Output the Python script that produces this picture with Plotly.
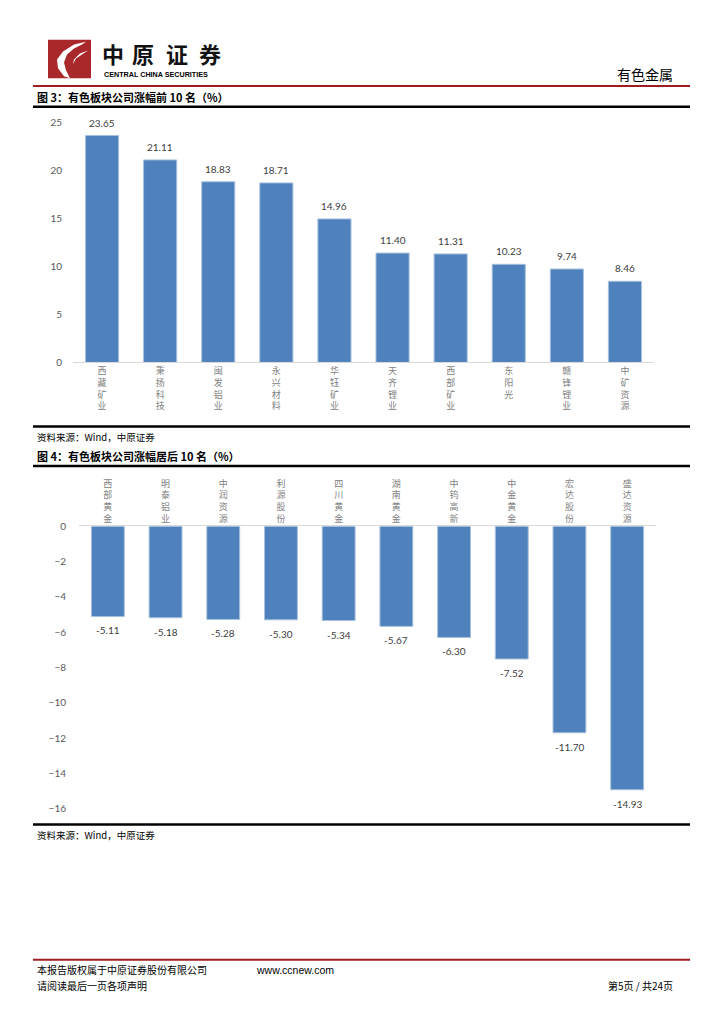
import plotly.graph_objects as go

# page is drawn inside the browser body (8px default margin)
OFF = 8
W, H = 724 - 2 * OFF, 1024 - 2 * OFF
def X(p): return (p - OFF) / W
def Y(p): return 1 - (p - OFF) / H

# ---- data ----
top_names = ["西藏矿业", "秉扬科技", "闽发铝业", "永兴材料", "华钰矿业",
             "天齐锂业", "西部矿业", "东阳光", "赣锋锂业", "中矿资源"]
top_values = [23.65, 21.11, 18.83, 18.71, 14.96, 11.40, 11.31, 10.23, 9.74, 8.46]
top_ticks = [0, 5, 10, 15, 20, 25]

bot_names = ["西部黄金", "明泰铝业", "中润资源", "利源股份", "四川黄金",
             "湖南黄金", "中钨高新", "中金黄金", "宏达股份", "盛达资源"]
bot_values = [-5.11, -5.18, -5.28, -5.30, -5.34, -5.67, -6.30, -7.52, -11.70, -14.93]
bot_ticks = [0, -2, -4, -6, -8, -10, -12, -14, -16]

BAR = "#4F81BD"
EDGE = "#A7C0DE"
NUMF = "Lato, Noto Sans CJK SC, sans-serif"
CJK = "Noto Sans CJK SC, sans-serif"

def vert(s):
    return "<br>".join(list(s))

fig = go.Figure()
fig.add_trace(go.Bar(
    x=list(range(len(top_values))), y=top_values, xaxis="x", yaxis="y",
    marker=dict(color=BAR, line=dict(color=EDGE, width=1)), width=0.57,
    showlegend=False, hoverinfo="skip"))
fig.add_trace(go.Bar(
    x=list(range(len(bot_values))), y=bot_values, xaxis="x2", yaxis="y2",
    marker=dict(color=BAR, line=dict(color=EDGE, width=1)), width=0.57,
    showlegend=False, hoverinfo="skip"))

tickfont = dict(family=NUMF, size=10, color="#595959")
catfont = dict(family=CJK, size=9, color="#7F7F7F")

fig.update_layout(
    width=W, height=H, margin=dict(l=0, r=0, t=0, b=0),
    paper_bgcolor="white", plot_bgcolor="white",
    xaxis=dict(domain=[X(73), X(654)], range=[-0.5, 9.5], anchor="y",
               tickvals=list(range(10)), ticktext=[vert(n) for n in top_names],
               tickfont=catfont, showline=True, linecolor="#D9D9D9", linewidth=1,
               showgrid=False, zeroline=False, ticks=""),
    yaxis=dict(domain=[Y(360), Y(117)], range=[0, 25], tickvals=top_ticks,
               tickfont=tickfont, showgrid=False, zeroline=False, ticks="",
               ticklabelstandoff=10, anchor="x"),
    xaxis2=dict(domain=[X(79), X(656)], range=[-0.5, 9.5], side="top", anchor="y2",
                tickvals=list(range(10)), ticktext=[vert(n) for n in bot_names],
                tickfont=catfont, showline=True, linecolor="#D9D9D9", linewidth=1,
                showgrid=False, zeroline=False, ticks=""),
    yaxis2=dict(domain=[Y(812), Y(526)], range=[-16, 0], tickvals=bot_ticks,
                tickfont=tickfont, showgrid=False, zeroline=False, ticks="",
                ticklabelstandoff=12, anchor="x2"),
)

shapes = []
def hline(y, x0, x1, color, w):
    shapes.append(dict(type="line", xref="paper", yref="paper",
                       x0=X(x0), x1=X(x1), y0=Y(y), y1=Y(y),
                       line=dict(color=color, width=w)))

hline(80, 33, 690, "#A01C22", 2)
hline(101, 33, 690, "#000000", 2.5)
hline(425, 33, 690, "#000000", 2.5)
hline(465, 33, 690, "#000000", 2.5)
hline(828, 33, 690, "#000000", 2.5)
hline(965, 33, 690, "#A01C22", 2)

# logo
shapes.append(dict(type="rect", xref="paper", yref="paper",
                   x0=X(48), x1=X(91), y0=Y(72), y1=Y(33),
                   fillcolor="#A8282B", line=dict(width=0)))
def path(pts):
    return "M " + " L ".join(f"{X(a):.5f},{Y(b):.5f}" for a, b in pts) + " Z"
swoosh = [(86, 35), (74, 38), (63, 45), (57, 53), (58, 62), (64, 70), (70, 72),
          (66, 64), (64, 56), (67, 48), (74, 42), (82, 38)]
shapes.append(dict(type="path", xref="paper", yref="paper", path=path(swoosh),
                   fillcolor="white", line=dict(width=0)))
swoosh2 = [(88, 44), (80, 47), (74, 53), (73, 58), (76, 52), (82, 48)]
shapes.append(dict(type="path", xref="paper", yref="paper", path=path(swoosh2),
                   fillcolor="white", line=dict(width=0)))
fig.update_layout(shapes=shapes)

ann = []
def text(x, y, s, size, color="#000000", family=CJK, xanchor="left", bold=False):
    if bold:
        s = f"<b>{s}</b>"
    ann.append(dict(x=X(x), y=Y(y), xref="paper", yref="paper", text=s,
                    showarrow=False, xanchor=xanchor, yanchor="middle",
                    font=dict(size=size, color=color, family=family)))

for ch, cx in zip("中原证券", [113, 143, 177, 210]):
    ann.append(dict(x=X(cx), y=Y(47), xref="paper", yref="paper", text=f"<b>{ch}</b>",
                    showarrow=False, xanchor="center", yanchor="middle",
                    font=dict(size=22, color="#111111", family=CJK)))
text(102, 68, "CENTRAL CHINA SECURITIES", 7.2, family="Liberation Sans, sans-serif", bold=True)
text(675, 68, "有色金属", 14, xanchor="right")

text(35, 91, "图 3：有色板块公司涨幅前 10 名（%）", 11, bold=True)
text(35, 436, "资料来源：Wind，中原证券", 9.5)
text(35, 455, "图 4：有色板块公司涨幅居后 10 名（%）", 11, bold=True)
text(35, 839, "资料来源：Wind，中原证券", 9.5)

text(35, 975, "本报告版权属于中原证券股份有限公司", 10)
text(254, 975, "www.ccnew.com", 10.5, family="Liberation Sans, sans-serif")
text(35, 991, "请阅读最后一页各项声明", 10)
text(675, 991, "第5页 / 共24页", 10, xanchor="right")

# value labels, placed through the data axes
labfont = dict(family=NUMF, size=10, color="#404040")
for i, v in enumerate(top_values):
    ann.append(dict(x=i, y=v, xref="x", yref="y", text=f"{v:.2f}", showarrow=False,
                    yanchor="middle", yshift=13, font=labfont))
for i, v in enumerate(bot_values):
    ann.append(dict(x=i, y=v, xref="x2", yref="y2", text=f"{v:.2f}", showarrow=False,
                    yanchor="middle", yshift=-14, font=labfont))
fig.update_layout(annotations=ann)

fig.write_html("out.html")
